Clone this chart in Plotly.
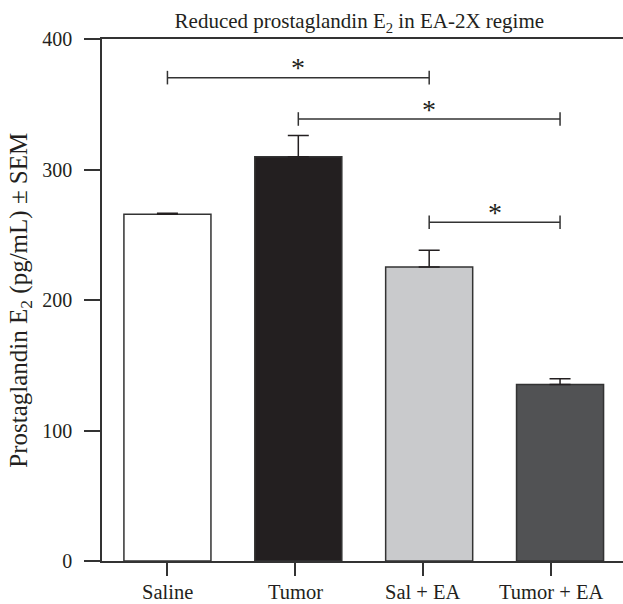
import plotly.graph_objects as go

# ---- data ----
categories = ["Saline", "Tumor", "Sal + EA", "Tumor + EA"]
means = [265.7, 309.8, 225.2, 135.2]
sem = [0.8, 16.2, 13.0, 4.4]
bar_colors = ["#ffffff", "#231f20", "#c9cacc", "#515254"]
y_ticks = [0, 100, 200, 300, 400]
# significance brackets: (from group index, to group index, height in pg/mL)
brackets = [(0, 2, 370.4), (1, 3, 338.7), (2, 3, 259.6)]
sig_label = "*"

FONT = "Liberation Serif, Times New Roman, serif"
INK = "#231f20"
LINE = "#333333"

xs = list(range(len(categories)))
tick_step = 0.977  # tick marks sit slightly left of bar centres in the reference
tick_pos = [i * tick_step for i in xs]

fig = go.Figure()
fig.add_trace(go.Bar(
    x=xs, y=means, width=0.665,
    marker=dict(color=bar_colors, line=dict(color=LINE, width=1.5)),
    error_y=dict(type="data", array=sem, arrayminus=[0] * len(sem), symmetric=False,
                 color=INK, thickness=1.5, width=10.5),
    showlegend=False, hoverinfo="skip",
))

shapes = []
half = 5.2
for a, b, h in brackets:
    shapes.append(dict(type="line", xref="x", yref="y", x0=a, x1=b, y0=h, y1=h,
                       line=dict(color=LINE, width=1.5)))
    for xe in (a, b):
        shapes.append(dict(type="line", xref="x", yref="y", x0=xe, x1=xe,
                           y0=h - half, y1=h + half, line=dict(color=LINE, width=1.5)))

annotations = []
for a, b, h in brackets:
    annotations.append(dict(x=(a + b) / 2, y=h, xref="x", yref="y", text=sig_label,
                            showarrow=False, yanchor="middle", yshift=10,
                            font=dict(family=FONT, size=28, color=INK)))

# category labels under the tick marks
for xp, lab in zip(tick_pos, categories):
    annotations.append(dict(x=xp, y=0, xref="x", yref="paper", text=lab,
                            showarrow=False, xanchor="center", yanchor="top", yshift=-18,
                            font=dict(family=FONT, size=20.5, color=INK)))

annotations.append(dict(
    x=-0.158, y=0.5, xref="paper", yref="paper", xanchor="center", yanchor="middle",
    textangle=-90, showarrow=False,
    text="Prostaglandin E<sub>2</sub> (pg/mL) ± SEM",
    font=dict(family=FONT, size=25, color=INK)))

fig.update_layout(
    width=623, height=604,
    margin=dict(l=102, r=0, t=39, b=43, autoexpand=False),
    paper_bgcolor="white", plot_bgcolor="white",
    title=dict(text="Reduced prostaglandin E<sub>2</sub> in EA-2X regime",
               x=0.494, xref="paper", xanchor="center",
               y=1 - 21 / 604, yref="container", yanchor="middle",
               font=dict(family=FONT, size=21, color=INK)),
    shapes=shapes, annotations=annotations,
)
fig.update_xaxes(
    range=[-0.5, 3.481], tickmode="array",
    tickvals=tick_pos, ticktext=categories, showticklabels=False,
    ticks="outside", ticklen=13, tickwidth=1.5, tickcolor=LINE,
    showline=True, linecolor=LINE, linewidth=1.5, mirror=True,
    showgrid=False, zeroline=False,
)
fig.update_yaxes(
    range=[0, 400], tickmode="array", tickvals=y_ticks,
    ticks="outside", ticklen=16, tickwidth=1.5, tickcolor=LINE,
    ticklabelstandoff=8,
    showline=True, linecolor=LINE, linewidth=1.5,
    showgrid=False, zeroline=False,
    tickfont=dict(family=FONT, size=20, color=INK),
)

fig.write_html("out.html", config={"displayModeBar": False},
               post_script="document.body.style.margin='0';")
